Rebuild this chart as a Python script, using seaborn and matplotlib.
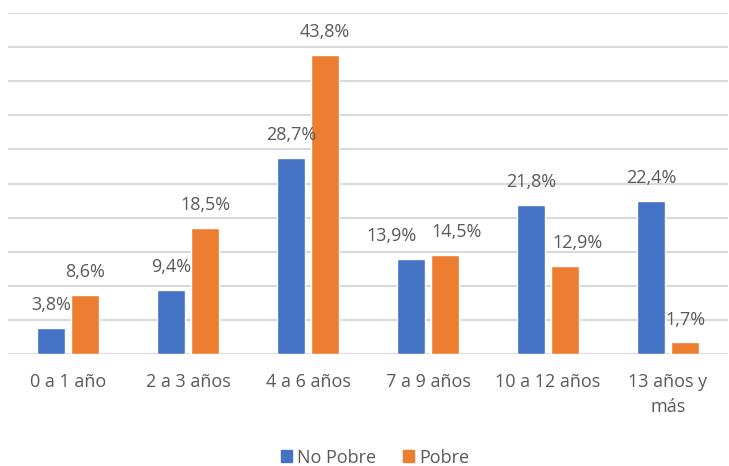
import pandas as pd
import matplotlib
matplotlib.use("Agg")
import matplotlib.pyplot as plt
import seaborn as sns

# data
categorias = ["0 a 1 año", "2 a 3 años", "4 a 6 años", "7 a 9 años", "10 a 12 años", "13 años y\nmás"]
no_pobre = [3.8, 9.4, 28.7, 13.9, 21.8, 22.4]
pobre = [8.6, 18.5, 43.8, 14.5, 12.9, 1.7]
series = ["No Pobre", "Pobre"]
colores = ["#4472C4", "#ED7D31"]

df = pd.DataFrame({
    "categoria": categorias * 2,
    "valor": no_pobre + pobre,
    "serie": [series[0]] * len(categorias) + [series[1]] * len(categorias),
})

sns.set_style("white")
plt.rcParams["font.family"] = ["Open Sans", "DejaVu Sans"]
texto = "#595959"
fs = 13

fig = plt.figure(figsize=(7.29, 4.66), dpi=100)
ax = fig.add_axes([8 / 729, 1 - 354 / 466, 720 / 729, 341 / 466])

sns.barplot(
    data=df, x="categoria", y="valor", hue="serie",
    palette=colores, width=0.567, gap=0.2, ax=ax, legend=False,
    saturation=1,
)

# horizontal gridlines every 5 %
ax.set_ylim(0, 50)
ax.set_yticks(range(0, 55, 5))
ax.yaxis.grid(True, color="#D9D9D9", linewidth=1.5)
ax.set_axisbelow(True)
ax.tick_params(axis="y", left=False, labelleft=False)
ax.tick_params(axis="x", bottom=False, pad=10, labelsize=fs, labelcolor=texto)
for lbl in ax.get_xticklabels():
    lbl.set_linespacing(1.55)
for s in ax.spines.values():
    s.set_visible(False)
ax.set_xlabel("")
ax.set_ylabel("")
ax.set_xlim(-0.5, len(categorias) - 0.5)

# value labels; a few are nudged sideways as in the original
desplaz = {(0, 3): -14, (1, 3): 8, (1, 4): 9}
for i, (cont, vals) in enumerate(zip(ax.containers, [no_pobre, pobre])):
    for j, (bar, v) in enumerate(zip(cont, vals)):
        ax.annotate(f"{v:.1f}%".replace(".", ","),
                    (bar.get_x() + bar.get_width() / 2, bar.get_height()),
                    xytext=(desplaz.get((i, j), 0), 10), textcoords="offset points",
                    ha="center", va="bottom", fontsize=fs, color=texto)

handles = [plt.Rectangle((0, 0), 1, 1, color=c) for c in colores]
fig.legend(handles, series, loc="lower center", bbox_to_anchor=(0.515, -0.036),
           ncol=2, frameon=False, fontsize=fs, labelcolor=texto,
           handlelength=0.6, handleheight=0.6, handletextpad=0.3, columnspacing=1.5)

fig.savefig("out.png", dpi=100)
plt.close(fig)
